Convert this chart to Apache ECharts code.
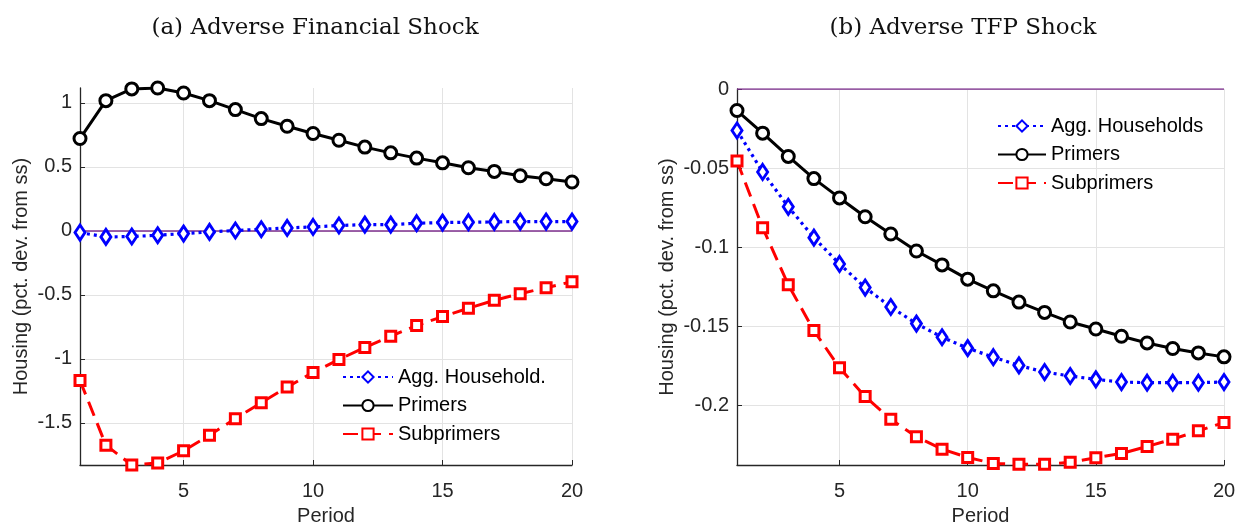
<!DOCTYPE html>
<html>
<head>
<meta charset="utf-8">
<script src="https://cdn.jsdelivr.net/npm/echarts@6/dist/echarts.min.js"></script>
<style>
html,body{margin:0;padding:0;background:#fff;}
#c{width:1238px;height:525px;}
</style>
</head>
<body>
<div id="c"></div>
<script>
// ---- data ----
const periods = [1,2,3,4,5,6,7,8,9,10,11,12,13,14,15,16,17,18,19,20];
const xTicks = [5,10,15,20];

// (a) Adverse Financial Shock
const aggA  = [-0.013,-0.047,-0.044,-0.034,-0.021,-0.008,0.003,0.013,0.023,0.031,0.042,0.049,0.049,0.060,0.065,0.068,0.070,0.073,0.073,0.073];
const primA = [0.722,1.018,1.110,1.117,1.078,1.018,0.948,0.878,0.818,0.761,0.709,0.655,0.610,0.569,0.532,0.494,0.465,0.431,0.408,0.382];
const subA  = [-1.169,-1.675,-1.830,-1.815,-1.719,-1.597,-1.468,-1.343,-1.221,-1.106,-1.005,-0.912,-0.823,-0.740,-0.670,-0.605,-0.543,-0.491,-0.444,-0.397];
const yTicksA = [-1.5,-1,-0.5,0,0.5,1];

// (b) Adverse TFP Shock
const aggB  = [-0.0262,-0.0524,-0.0744,-0.0939,-0.1105,-0.1254,-0.1377,-0.1482,-0.1568,-0.1637,-0.1694,-0.1746,-0.1788,-0.1813,-0.1834,-0.1851,-0.1855,-0.1855,-0.1855,-0.1851];
const primB = [-0.0136,-0.0279,-0.0426,-0.0566,-0.0688,-0.0807,-0.0916,-0.1023,-0.1111,-0.1201,-0.1275,-0.1346,-0.1411,-0.1472,-0.1516,-0.1562,-0.1604,-0.1639,-0.1667,-0.1692];
const subB  = [-0.0455,-0.0876,-0.1237,-0.1526,-0.1761,-0.1943,-0.2086,-0.2197,-0.2275,-0.2327,-0.2365,-0.2371,-0.2371,-0.2358,-0.2329,-0.2302,-0.2258,-0.2212,-0.2159,-0.2107];
const yTicksB = [-0.2,-0.15,-0.1,-0.05,0];
const zeroLine = [0,0];

const titles = ['(a) Adverse Financial Shock','(b) Adverse TFP Shock'];
const yName = 'Housing (pct. dev. from ss)';
const xName = 'Period';

// ---- styles ----
const AX = '#262626';
const GRID = '#e3e3e3';
const SANS = 'Liberation Sans, Arial, sans-serif';
const FS = 20;

function pairs(ys){ return ys.map((v,i)=>[periods[i], v]); }

function xAxisDef(gi){
  return {
    type:'value', gridIndex:gi, min:periods[0], max:periods[periods.length-1],
    name:xName, nameLocation:'middle', nameGap:41,
    nameTextStyle:{color:AX,fontFamily:SANS,fontSize:FS},
    axisLine:{show:true,onZero:false,lineStyle:{color:AX,width:1.3}},
    axisTick:{show:true,inside:true,length:5,customValues:xTicks,lineStyle:{color:AX}},
    axisLabel:{customValues:xTicks,color:AX,fontFamily:SANS,fontSize:FS,margin:16},
    splitLine:{show:true,lineStyle:{color:GRID,width:1}}
  };
}
function yAxisDef(gi,min,max,ticks,gap){
  return {
    type:'value', gridIndex:gi, min:min, max:max,
    name:yName, nameLocation:'middle', nameGap:gap,
    nameTextStyle:{color:AX,fontFamily:SANS,fontSize:FS},
    axisLine:{show:true,onZero:false,lineStyle:{color:AX,width:1.3}},
    axisTick:{show:true,inside:true,length:5,customValues:ticks,lineStyle:{color:AX}},
    axisLabel:{customValues:ticks,color:AX,fontFamily:SANS,fontSize:FS,margin:8,
      formatter:v=>String(Math.round(v*1000)/1000)},
    splitLine:{show:true,lineStyle:{color:GRID,width:1}}
  };
}

function seriesSet(gi, aggName, agg, prim, sub){
  return [
    {type:'line', name:'_zero'+gi, xAxisIndex:gi, yAxisIndex:gi,
     data:[[periods[0],zeroLine[0]],[periods[periods.length-1],zeroLine[1]]],
     showSymbol:false, symbol:'none', lineStyle:{color:'#7E2F8E',width:1.5}, z:1, silent:true},
    {type:'line', name:aggName, xAxisIndex:gi, yAxisIndex:gi, data:pairs(agg),
     symbol:'diamond', symbolSize:[10,15], color:'#0000FF',
     lineStyle:{color:'#0000FF',width:3.2,type:[3,4]},
     itemStyle:{color:'#ffffff',borderColor:'#0000FF',borderWidth:3}, z:3},
    {type:'line', name:'Primers', xAxisIndex:gi, yAxisIndex:gi, data:pairs(prim),
     symbol:'circle', symbolSize:12, color:'#000000',
     lineStyle:{color:'#000000',width:3},
     itemStyle:{color:'#ffffff',borderColor:'#000000',borderWidth:3}, z:3},
    {type:'line', name:'Subprimers', xAxisIndex:gi, yAxisIndex:gi, data:pairs(sub),
     symbol:'rect', symbolSize:10, color:'#FF0000',
     lineStyle:{color:'#FF0000',width:3,type:[15,8]},
     itemStyle:{color:'#ffffff',borderColor:'#FF0000',borderWidth:3}, z:3}
  ];
}

const legendText = {color:'#000',fontFamily:SANS,fontSize:20};

const chart = echarts.init(document.getElementById('c'), null, {renderer:'canvas'});
chart.setOption({
  animation:false,
  backgroundColor:'#fff',
  title:[
    {text:titles[0], left:310, top:12, textAlign:'center',
     textStyle:{fontFamily:'DejaVu Serif, serif',fontWeight:'normal',fontSize:23,color:'#111'}},
    {text:titles[1], left:958, top:12, textAlign:'center',
     textStyle:{fontFamily:'DejaVu Serif, serif',fontWeight:'normal',fontSize:23,color:'#111'}}
  ],
  grid:[
    {left:80, right:666, top:88, bottom:60, containLabel:false, outerBoundsMode:'none'},
    {left:737, right:14, top:89, bottom:60, containLabel:false, outerBoundsMode:'none'}
  ],
  xAxis:[xAxisDef(0), xAxisDef(1)],
  yAxis:[yAxisDef(0,-1.83,1.117,yTicksA,49), yAxisDef(1,-0.2375,0,yTicksB,60)],
  legend:[
    {data:['Agg. Household.','Primers','Subprimers'], orient:'vertical', left:342, top:367,
     padding:0, itemWidth:50, itemHeight:14, itemGap:8.5, textStyle:legendText, selectedMode:false},
    {data:['Agg. Households','Primers','Subprimers'], orient:'vertical', left:997, top:116,
     padding:0, itemWidth:48, itemHeight:14, itemGap:8.5, textStyle:legendText, selectedMode:false}
  ],
  series:[].concat(
    seriesSet(0,'Agg. Household.',aggA,primA,subA),
    seriesSet(1,'Agg. Households',aggB,primB,subB)
  )
});
</script>
</body>
</html>
